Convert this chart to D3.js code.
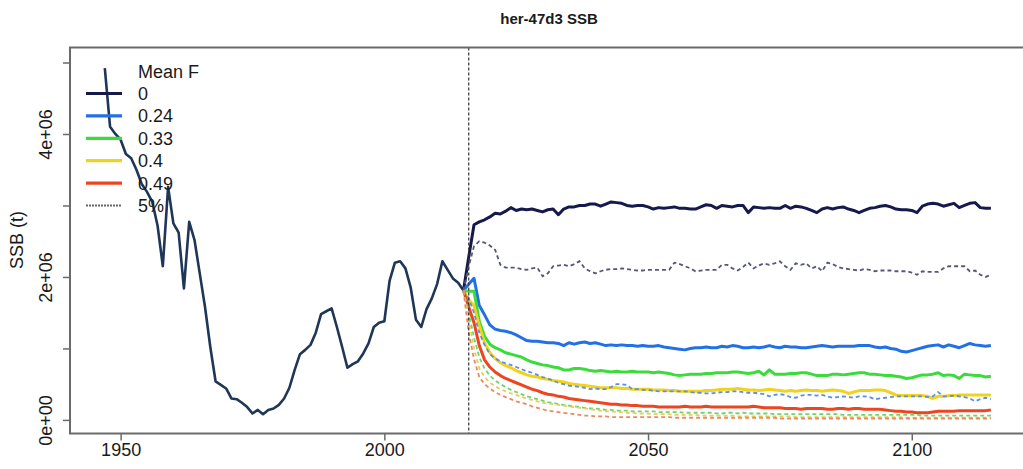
<!DOCTYPE html>
<html>
<head>
<meta charset="utf-8">
<script src="https://cdn.jsdelivr.net/npm/d3@7"></script>
<style>
  html, body { margin: 0; padding: 0; background: #ffffff; }
  svg { display: block; font-family: "Liberation Sans", Arial, sans-serif; }
</style>
</head>
<body>
<svg id="chart" width="1023" height="469"></svg>
<script>
// ---- Historical SSB (tonnes, millions), 1947-2015 ----
const histYears = d3.range(1947, 2016);
const histSSB = [
  4.92, 4.10, 4.00, 3.92, 3.72, 3.66, 3.50, 3.30, 3.19, 3.05,
  2.72, 2.15, 3.26, 2.75, 2.62, 1.84, 2.77, 2.52, 2.05, 1.58,
  1.02, 0.54, 0.49, 0.44, 0.30, 0.29, 0.24, 0.18, 0.09, 0.14,
  0.08, 0.14, 0.16, 0.21, 0.30, 0.45, 0.70, 0.92, 0.98, 1.05,
  1.22, 1.48, 1.52, 1.56, 1.30, 1.02, 0.73, 0.78, 0.82, 0.93,
  1.07, 1.30, 1.36, 1.38, 1.95, 2.20, 2.22, 2.12, 1.85, 1.40,
  1.30, 1.55, 1.70, 1.90, 2.22, 2.10, 1.98, 1.92, 1.81
];

// ---- Projections 2015-2115 (millions of tonnes) ----
const projYears = d3.range(2015, 2116);

// median, mean F = 0
const medF0 = [
  1.81, 2.28, 2.73, 2.77, 2.80, 2.84, 2.89, 2.88, 2.92, 2.97,
  2.93, 2.95, 2.94, 2.95, 2.93, 2.91, 2.94, 2.95, 2.87, 2.95,
  2.98, 2.98, 3.00, 3.00, 3.02, 3.02, 2.99, 3.02, 3.05, 3.04,
  3.03, 3.00, 2.99, 3.00, 3.00, 2.98, 2.95, 2.97, 2.96, 2.97,
  2.98, 2.96, 2.96, 2.95, 2.95, 2.98, 3.01, 3.00, 2.96, 3.00,
  2.99, 2.98, 3.00, 3.00, 2.90, 2.98, 2.97, 2.96, 2.97, 2.96,
  2.96, 3.00, 2.96, 2.99, 2.98, 2.96, 2.93, 2.90, 2.95, 2.97,
  2.95, 2.97, 2.98, 2.95, 2.93, 2.90, 2.93, 2.96, 2.97, 2.99,
  3.00, 2.98, 2.95, 2.94, 2.94, 2.93, 2.90, 2.99, 3.02, 3.03,
  3.02, 2.99, 3.01, 3.03, 2.97, 3.00, 3.03, 3.04, 2.97, 2.96,
  2.96
];
// median, mean F = 0.24
const medF024 = [
  1.81, 1.90, 1.98, 1.60, 1.47, 1.33, 1.27, 1.25, 1.24, 1.22,
  1.19, 1.15, 1.11, 1.10, 1.10, 1.09, 1.08, 1.08, 1.07, 1.04,
  1.08, 1.06, 1.08, 1.09, 1.07, 1.08, 1.06, 1.04, 1.05, 1.04,
  1.05, 1.04, 1.04, 1.03, 1.04, 1.03, 1.03, 1.04, 1.02, 1.01,
  1.00, 0.99, 0.98, 1.00, 1.01, 1.01, 1.02, 1.01, 1.01, 1.03,
  1.02, 1.04, 1.03, 1.01, 1.01, 1.02, 1.01, 1.02, 1.04, 1.02,
  1.01, 1.03, 1.02, 1.02, 1.01, 1.01, 1.02, 1.03, 1.04, 1.03,
  1.02, 1.03, 1.03, 1.03, 1.03, 1.04, 1.04, 1.04, 1.02, 1.01,
  1.02, 1.00, 0.99, 0.96, 0.95, 0.97, 0.99, 1.01, 1.03, 1.04,
  1.05, 1.02, 1.05, 1.03, 1.01, 1.04, 1.07, 1.05, 1.04, 1.03,
  1.04
];
// median, mean F = 0.33
const medF033 = [
  1.81, 1.80, 1.80, 1.38, 1.17, 1.06, 1.01, 0.98, 0.94, 0.92,
  0.90, 0.88, 0.84, 0.81, 0.79, 0.77, 0.76, 0.74, 0.73, 0.70,
  0.70, 0.72, 0.72, 0.71, 0.69, 0.68, 0.69, 0.68, 0.67, 0.68,
  0.67, 0.67, 0.68, 0.67, 0.67, 0.67, 0.66, 0.67, 0.66, 0.65,
  0.63, 0.62, 0.63, 0.64, 0.64, 0.64, 0.65, 0.65, 0.66, 0.66,
  0.66, 0.67, 0.67, 0.66, 0.65, 0.66, 0.68, 0.63, 0.70, 0.64,
  0.64, 0.64, 0.65, 0.65, 0.66, 0.66, 0.64, 0.62, 0.62, 0.62,
  0.64, 0.64, 0.63, 0.64, 0.65, 0.66, 0.66, 0.64, 0.64, 0.63,
  0.62, 0.62, 0.61, 0.60, 0.58, 0.59, 0.61, 0.63, 0.63, 0.64,
  0.66, 0.62, 0.63, 0.62, 0.58, 0.64, 0.63, 0.62, 0.62, 0.60,
  0.61
];
// median, mean F = 0.4
const medF040 = [
  1.81, 1.68, 1.60, 1.32, 1.08, 0.94, 0.86, 0.80, 0.76, 0.73,
  0.69, 0.66, 0.63, 0.61, 0.60, 0.58, 0.57, 0.55, 0.54, 0.53,
  0.51, 0.50, 0.49, 0.48, 0.47, 0.46, 0.45, 0.45, 0.45, 0.45,
  0.44, 0.44, 0.43, 0.43, 0.43, 0.43, 0.42, 0.42, 0.42, 0.41,
  0.41, 0.40, 0.40, 0.40, 0.40, 0.40, 0.41, 0.41, 0.42, 0.43,
  0.43, 0.43, 0.44, 0.43, 0.42, 0.42, 0.41, 0.42, 0.43, 0.42,
  0.41, 0.40, 0.41, 0.40, 0.41, 0.42, 0.41, 0.41, 0.40, 0.41,
  0.42, 0.41, 0.40, 0.37, 0.39, 0.41, 0.41, 0.41, 0.42, 0.42,
  0.41, 0.38, 0.35, 0.34, 0.34, 0.34, 0.34, 0.34, 0.33, 0.30,
  0.33, 0.33, 0.34, 0.34, 0.35, 0.35, 0.35, 0.35, 0.35, 0.35,
  0.35
];
// median, mean F = 0.49
const medF049 = [
  1.81, 1.58, 1.36, 1.04, 0.84, 0.74, 0.67, 0.62, 0.58, 0.55,
  0.52, 0.49, 0.46, 0.43, 0.41, 0.38, 0.36, 0.35, 0.33, 0.32,
  0.30, 0.29, 0.28, 0.27, 0.26, 0.25, 0.24, 0.23, 0.22, 0.22,
  0.21, 0.21, 0.20, 0.20, 0.19, 0.19, 0.19, 0.18, 0.18, 0.18,
  0.18, 0.18, 0.19, 0.18, 0.18, 0.18, 0.19, 0.18, 0.18, 0.18,
  0.18, 0.18, 0.18, 0.18, 0.18, 0.19, 0.18, 0.17, 0.17, 0.17,
  0.17, 0.16, 0.16, 0.16, 0.15, 0.16, 0.16, 0.16, 0.16, 0.15,
  0.15, 0.16, 0.16, 0.15, 0.16, 0.16, 0.15, 0.15, 0.15, 0.15,
  0.14, 0.13, 0.12, 0.12, 0.11, 0.11, 0.10, 0.10, 0.10, 0.11,
  0.12, 0.12, 0.12, 0.12, 0.13, 0.13, 0.13, 0.13, 0.13, 0.13,
  0.14
];

// lower 5% quantiles
const lowF0 = [
  1.81, 2.15, 2.43, 2.50, 2.48, 2.44, 2.38, 2.17, 2.13, 2.13,
  2.13, 2.11, 2.10, 2.12, 2.13, 2.01, 2.05, 2.15, 2.16, 2.17,
  2.15, 2.18, 2.22, 2.12, 2.08, 2.05, 2.08, 2.10, 2.11, 2.11,
  2.12, 2.11, 2.10, 2.09, 2.09, 2.10, 2.10, 2.10, 2.10, 2.10,
  2.20, 2.18, 2.15, 2.12, 2.08, 2.09, 2.10, 2.10, 2.10, 2.17,
  2.17, 2.12, 2.09, 2.14, 2.20, 2.12, 2.16, 2.19, 2.17, 2.19,
  2.22, 2.15, 2.10, 2.19, 2.17, 2.19, 2.12, 2.15, 2.08, 2.20,
  2.18, 2.14, 2.12, 2.11, 2.10, 2.09, 2.11, 2.10, 2.08, 2.09,
  2.09, 2.09, 2.08, 2.08, 2.08, 2.06, 2.03, 2.08, 2.07, 2.07,
  2.07, 2.12, 2.15, 2.15, 2.15, 2.15, 2.08, 2.09, 2.03, 2.00,
  2.03
];
const lowF024 = [
  1.81, 1.70, 1.50, 1.22, 1.05, 0.92, 0.86, 0.82, 0.79, 0.77,
  0.74, 0.71, 0.68, 0.66, 0.63, 0.60, 0.58, 0.55, 0.52, 0.50,
  0.48, 0.47, 0.46, 0.45, 0.43, 0.44, 0.43, 0.43, 0.46, 0.50,
  0.50, 0.49, 0.43, 0.43, 0.42, 0.42, 0.41, 0.40, 0.40, 0.40,
  0.40, 0.40, 0.40, 0.39, 0.38, 0.38, 0.37, 0.37, 0.38, 0.39,
  0.39, 0.40, 0.40, 0.39, 0.38, 0.38, 0.37, 0.36, 0.33, 0.35,
  0.36, 0.35, 0.32, 0.31, 0.34, 0.35, 0.35, 0.34, 0.35, 0.33,
  0.31, 0.32, 0.33, 0.32, 0.31, 0.33, 0.33, 0.32, 0.29, 0.30,
  0.31, 0.32, 0.33, 0.33, 0.33, 0.33, 0.33, 0.33, 0.32, 0.33,
  0.39, 0.33, 0.33, 0.34, 0.33, 0.32, 0.30, 0.26, 0.29, 0.31,
  0.29
];
const lowF033 = [
  1.81, 1.50, 1.15, 0.88, 0.72, 0.62, 0.55, 0.50, 0.46, 0.42,
  0.39, 0.36, 0.33, 0.31, 0.29, 0.27, 0.25, 0.24, 0.22, 0.21,
  0.20, 0.19, 0.18, 0.17, 0.16, 0.16, 0.15, 0.14, 0.14, 0.13,
  0.13, 0.13, 0.12, 0.12, 0.12, 0.12, 0.12, 0.11, 0.11, 0.11,
  0.11, 0.11, 0.10, 0.10, 0.10, 0.10, 0.10, 0.10, 0.09, 0.09,
  0.10, 0.10, 0.09, 0.10, 0.09, 0.09, 0.09, 0.09, 0.09, 0.08,
  0.08, 0.08, 0.08, 0.08, 0.08, 0.08, 0.08, 0.08, 0.08, 0.08,
  0.08, 0.08, 0.07, 0.07, 0.07, 0.07, 0.07, 0.07, 0.07, 0.07,
  0.07, 0.07, 0.07, 0.07, 0.07, 0.07, 0.07, 0.06, 0.06, 0.06,
  0.06, 0.06, 0.06, 0.06, 0.06, 0.06, 0.06, 0.06, 0.06, 0.06,
  0.06
];
const lowF040 = [
  1.81, 1.40, 1.00, 0.72, 0.60, 0.52, 0.47, 0.43, 0.40, 0.37,
  0.35, 0.32, 0.30, 0.28, 0.26, 0.24, 0.23, 0.22, 0.21, 0.20,
  0.19, 0.18, 0.17, 0.16, 0.15, 0.14, 0.13, 0.12, 0.12, 0.11,
  0.11, 0.10, 0.10, 0.09, 0.09, 0.09, 0.08, 0.08, 0.08, 0.08,
  0.07, 0.07, 0.07, 0.07, 0.07, 0.06, 0.06, 0.06, 0.06, 0.06,
  0.06, 0.06, 0.05, 0.05, 0.05, 0.05, 0.05, 0.05, 0.05, 0.05,
  0.05, 0.05, 0.05, 0.04, 0.04, 0.04, 0.04, 0.04, 0.04, 0.04,
  0.04, 0.04, 0.04, 0.04, 0.04, 0.04, 0.04, 0.04, 0.04, 0.04,
  0.04, 0.04, 0.04, 0.04, 0.03, 0.03, 0.03, 0.03, 0.03, 0.03,
  0.03, 0.03, 0.03, 0.03, 0.03, 0.03, 0.03, 0.03, 0.03, 0.03,
  0.03
];
const lowF049 = [
  1.81, 1.22, 0.85, 0.60, 0.50, 0.44, 0.39, 0.35, 0.32, 0.29,
  0.26, 0.24, 0.22, 0.19, 0.17, 0.15, 0.13, 0.12, 0.11, 0.10,
  0.09, 0.08, 0.07, 0.06, 0.06, 0.05, 0.05, 0.05, 0.04, 0.04,
  0.04, 0.04, 0.04, 0.04, 0.04, 0.04, 0.04, 0.04, 0.04, 0.04,
  0.03, 0.03, 0.03, 0.03, 0.03, 0.03, 0.03, 0.03, 0.03, 0.03,
  0.03, 0.03, 0.03, 0.03, 0.03, 0.03, 0.03, 0.03, 0.03, 0.03,
  0.02, 0.02, 0.02, 0.02, 0.02, 0.02, 0.02, 0.02, 0.02, 0.02,
  0.02, 0.02, 0.02, 0.02, 0.02, 0.02, 0.02, 0.02, 0.02, 0.02,
  0.02, 0.02, 0.02, 0.02, 0.02, 0.02, 0.02, 0.02, 0.02, 0.02,
  0.02, 0.02, 0.02, 0.02, 0.02, 0.02, 0.02, 0.02, 0.02, 0.02,
  0.02
];

const fLabels = ["0", "0.24", "0.33", "0.4", "0.49"];
const medianSeries = [medF0, medF024, medF033, medF040, medF049];
const lowerSeries = [lowF0, lowF024, lowF033, lowF040, lowF049];
const lowerLabel = "5%";
const legendTitle = "Mean F";

const xTicks = [1950, 2000, 2050, 2100];
const yTicks = [0, 1e6, 2e6, 3e6, 4e6, 5e6];
const yTickLabels = ["0e+00", "", "2e+06", "", "4e+06", ""];
const assessmentYear = 2016;

// ---- styling ----
const medColors = ["#15194b", "#2270e6", "#3bdb3b", "#f1d31c", "#ee4521"];
const lowColors = ["#55577a", "#5b8fe6", "#6fd46f", "#e2d05c", "#ea8a62"];
const histColor = "#1f3657";
const axisColor = "#6a6a6a";

const svg = d3.select("#chart");
svg.append("rect").attr("width", 1023).attr("height", 469).attr("fill", "#ffffff");

const plotLeft = 70, plotRight = 1027.8, plotTop = 47.5, plotBottom = 433.5;
const x = d3.scaleLinear().domain([1940.4, 2122]).range([plotLeft, plotRight]);
const y = d3.scaleLinear().domain([-0.19e6, 5.21e6]).range([plotBottom, plotTop]);

const line = d3.line()
  .x(d => x(d[0]))
  .y(d => y(d[1] * 1e6));

const plot = svg.append("g");

// historical series
plot.append("path")
  .datum(histYears.map((yr, i) => [yr, histSSB[i]]))
  .attr("d", line)
  .attr("fill", "none")
  .attr("stroke", histColor)
  .attr("stroke-width", 2.6)
  .attr("stroke-linejoin", "round");

// projected medians
medianSeries.forEach((vals, k) => {
  plot.append("path")
    .datum(projYears.map((yr, i) => [yr, vals[i]]))
    .attr("d", line)
    .attr("fill", "none")
    .attr("stroke", medColors[k])
    .attr("stroke-width", 3)
    .attr("stroke-linejoin", "round");
});

// projected lower 5% quantiles
lowerSeries.forEach((vals, k) => {
  plot.append("path")
    .datum(projYears.map((yr, i) => [yr, vals[i]]))
    .attr("d", line)
    .attr("fill", "none")
    .attr("stroke", lowColors[k])
    .attr("stroke-width", 1.8)
    .attr("stroke-dasharray", "4,3");
});

// assessment year marker
plot.append("line")
  .attr("x1", x(assessmentYear)).attr("x2", x(assessmentYear))
  .attr("y1", plotTop).attr("y2", plotBottom)
  .attr("stroke", "#333")
  .attr("stroke-width", 1.2)
  .attr("stroke-dasharray", "3,2");

// frame
svg.append("rect")
  .attr("x", plotLeft).attr("y", plotTop)
  .attr("width", plotRight - plotLeft).attr("height", plotBottom - plotTop)
  .attr("fill", "none")
  .attr("stroke", axisColor)
  .attr("stroke-width", 2);

// y axis
const yAxis = svg.append("g")
  .attr("transform", `translate(${plotLeft},0)`)
  .call(d3.axisLeft(y).tickValues(yTicks).tickSize(7)
    .tickFormat((d, i) => yTickLabels[i]));
yAxis.select(".domain").remove();
yAxis.selectAll(".tick line").attr("stroke", axisColor).attr("stroke-width", 1.5);
yAxis.selectAll(".tick text")
  .attr("transform", "rotate(-90)")
  .attr("x", 0).attr("y", -18).attr("dy", 0)
  .attr("text-anchor", "middle")
  .attr("fill", "#1a1a1a")
  .style("font-size", "18px")
  .style("font-family", "'Liberation Sans', Arial, sans-serif");

// x axis
const xAxis = svg.append("g")
  .attr("transform", `translate(0,${plotBottom})`)
  .call(d3.axisBottom(x).tickValues(xTicks).tickSize(7).tickFormat(d3.format("d")));
xAxis.select(".domain").remove();
xAxis.selectAll(".tick line").attr("stroke", axisColor).attr("stroke-width", 1.5);
xAxis.selectAll(".tick text")
  .attr("y", 22).attr("dy", 0)
  .attr("fill", "#1a1a1a")
  .style("font-size", "18px")
  .style("font-family", "'Liberation Sans', Arial, sans-serif");

// axis title
svg.append("text")
  .attr("transform", "translate(23,240) rotate(-90)")
  .attr("text-anchor", "middle")
  .attr("fill", "#1a1a1a")
  .style("font-size", "18px")
  .text("SSB (t)");

// chart title
svg.append("text")
  .attr("x", 549).attr("y", 24)
  .attr("text-anchor", "middle")
  .attr("fill", "#1a1a1a")
  .style("font-size", "15px")
  .style("font-weight", "bold")
  .text("her-47d3 SSB");

// legend
const legend = svg.append("g");
legend.append("text")
  .attr("x", 138).attr("y", 78)
  .attr("fill", "#1a1a1a")
  .style("font-size", "18px")
  .text(legendTitle);
const legendItems = fLabels.map((lab, i) => ({ label: lab, color: medColors[i], dash: null, width: 3.2 }))
  .concat([{ label: lowerLabel, color: "#666", dash: "2,1", width: 2 }]);
legendItems.forEach((item, i) => {
  const cy = 93.5 + i * 22.4;
  legend.append("line")
    .attr("x1", 86).attr("x2", 122)
    .attr("y1", cy).attr("y2", cy)
    .attr("stroke", item.color)
    .attr("stroke-width", item.width)
    .attr("stroke-dasharray", item.dash);
  legend.append("text")
    .attr("x", 138).attr("y", cy + 6.4)
    .attr("fill", "#1a1a1a")
    .style("font-size", "18px")
    .text(item.label);
});
</script>
</body>
</html>
